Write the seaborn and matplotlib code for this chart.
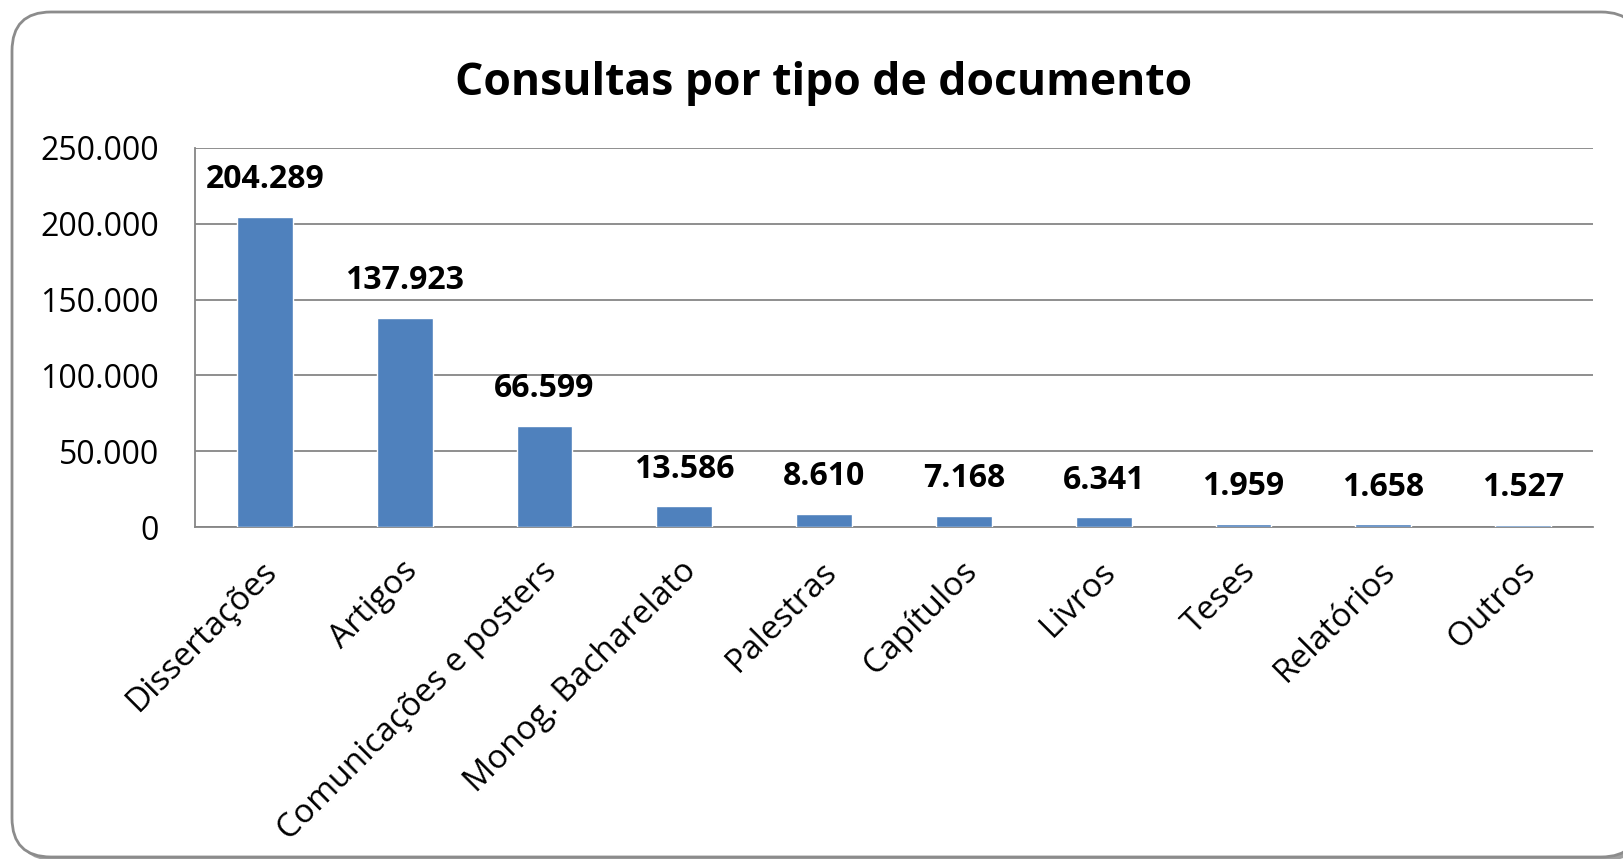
import pandas as pd
import seaborn as sns
import matplotlib.pyplot as plt
from matplotlib.patches import FancyBboxPatch
from matplotlib.ticker import FuncFormatter
from matplotlib.transforms import ScaledTranslation

tipos = ["Dissertações", "Artigos", "Comunicações e posters", "Monog. Bacharelato",
         "Palestras", "Capítulos", "Livros", "Teses", "Relatórios", "Outros"]
consultas = [204289, 137923, 66599, 13586, 8610, 7168, 6341, 1959, 1658, 1527]
y_ticks = [0, 50000, 100000, 150000, 200000, 250000]


def pt_fmt(v):
    return f"{int(v):,}".replace(",", ".")


def main():
    df = pd.DataFrame({"tipo": tipos, "consultas": consultas})

    sns.set_style("white")
    plt.rcParams['font.family'] = ['Open Sans', 'DejaVu Sans']
    plt.rcParams['text.color'] = 'black'
    plt.rcParams['xtick.color'] = 'black'
    plt.rcParams['ytick.color'] = 'black'

    W, H = 1624, 859
    fig = plt.figure(figsize=(W / 100, H / 100), dpi=100)
    # rounded chart frame with a soft shadow
    x0, y0, x1, y1 = 12, 12, 1640, 857
    fig.patches.append(FancyBboxPatch((x0 / W + 4 / W, 1 - (y1 + 4) / H), (x1 - x0) / W, (y1 - y0) / H,
                                      boxstyle="round,pad=0,rounding_size=0.024",
                                      transform=fig.transFigure, facecolor="#a0a0a0",
                                      edgecolor="none", mutation_aspect=W / H, zorder=-2))
    fig.patches.append(FancyBboxPatch((x0 / W, 1 - y1 / H), (x1 - x0) / W, (y1 - y0) / H,
                                      boxstyle="round,pad=0,rounding_size=0.024",
                                      transform=fig.transFigure, facecolor="white",
                                      edgecolor="#8c8c8c", linewidth=2,
                                      mutation_aspect=W / H, zorder=-1))

    ax = fig.add_axes([195 / W, 1 - 527 / H, (1593 - 195) / W, (527 - 148) / H])
    ax.set_facecolor("none")
    sns.barplot(data=df, x="tipo", y="consultas", color="#4F81BD", saturation=1,
                width=0.4, ax=ax, zorder=3)

    ax.set_ylim(0, 250000)
    ax.set_yticks(y_ticks)
    ax.yaxis.set_major_formatter(FuncFormatter(lambda v, p: pt_fmt(v)))
    ax.yaxis.grid(True, color="#868686", linewidth=1.3)
    ax.set_axisbelow(True)
    for s in ["left", "bottom"]:
        ax.spines[s].set_color("#868686")
        ax.spines[s].set_linewidth(1.3)
    ax.spines["top"].set_visible(False)
    ax.spines["right"].set_visible(False)

    ax.tick_params(axis="y", labelsize=23, pad=26, length=0)
    ax.tick_params(axis="x", labelsize=24, pad=20, length=0)
    shift = ScaledTranslation(-3 / 72, 0, fig.dpi_scale_trans)
    for lbl in ax.get_xticklabels():
        lbl.set_rotation(45)
        lbl.set_ha("right")
        lbl.set_rotation_mode("anchor")
        lbl.set_transform(lbl.get_transform() + shift)
    ax.set_xlabel("")
    ax.set_ylabel("")

    for i, v in enumerate(consultas):
        ax.annotate(pt_fmt(v), (i, v), xytext=(0, 15), textcoords="offset points",
                    ha="center", va="bottom", fontsize=23, fontweight="bold")

    fig.text(0.507, 1 - 83 / H, "Consultas por tipo de documento", ha="center",
             va="center", fontsize=32, fontweight="bold")

    fig.savefig("out.png", dpi=100)


main()
